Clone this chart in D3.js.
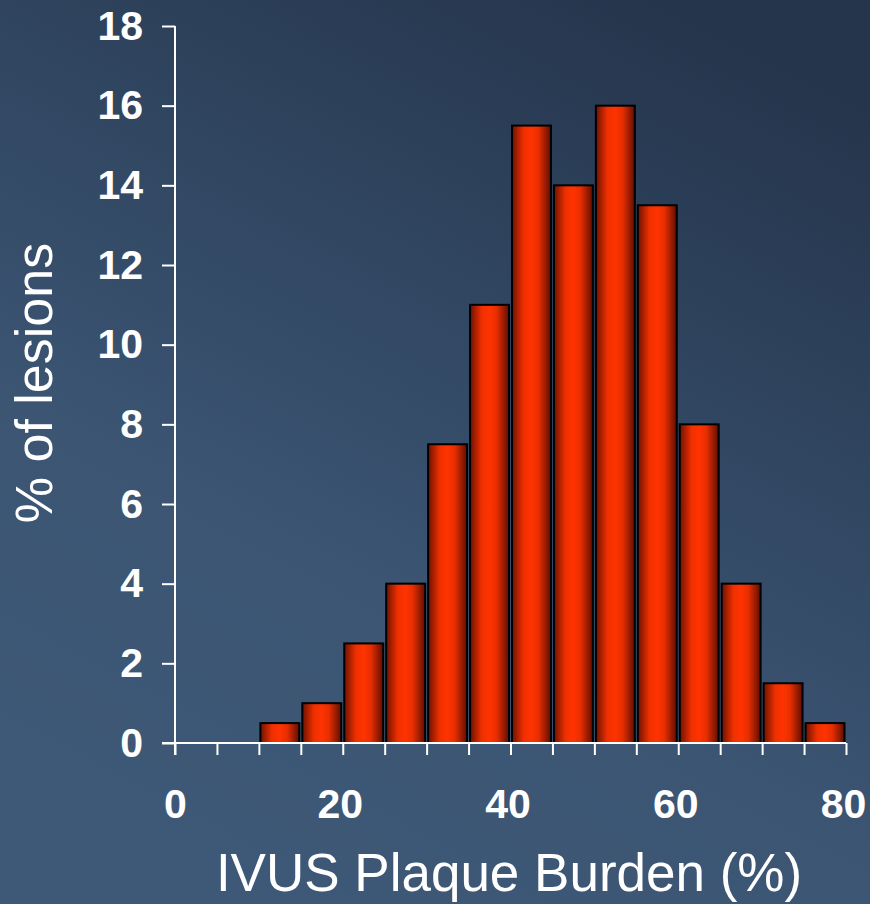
<!DOCTYPE html>
<html>
<head>
<meta charset="utf-8">
<script src="https://cdn.jsdelivr.net/npm/d3@7"></script>
<style>
  html, body { margin: 0; padding: 0; background: #334a66; }
  svg { display: block; }
</style>
</head>
<body>
<svg id="chart"></svg>
<script>
// histogram bins (lower edge, %) and share of lesions in each
let binStarts = [10, 15, 20, 25, 30, 35, 40, 45, 50, 55, 60, 65, 70, 75];
let binWidth = 5;
let lesionPct = [0.5, 1, 2.5, 4, 7.5, 11, 15.5, 14, 16, 13.5, 8, 4, 1.5, 0.5];
let xTicks = [0, 5, 10, 15, 20, 25, 30, 35, 40, 45, 50, 55, 60, 65, 70, 75, 80];
let xLabels = [0, 20, 40, 60, 80];
let yTicks = [0, 2, 4, 6, 8, 10, 12, 14, 16, 18];

let width = 870;
let height = 904;
let margin = {top: 26, right: 24, bottom: 161, left: 175};
let font = "'Liberation Sans', Arial, Helvetica, sans-serif";

let svg = d3.select('#chart')
  .attr('width', width)
  .attr('height', height);

let defs = svg.append('defs');

// slide background
let bg = defs.append('linearGradient')
  .attr('id', 'bg')
  .attr('x1', 0.75).attr('y1', 0)
  .attr('x2', 0.25).attr('y2', 1);
bg.append('stop').attr('offset', '0%').attr('stop-color', '#25354c');
bg.append('stop').attr('offset', '65%').attr('stop-color', '#3b5573');
bg.append('stop').attr('offset', '100%').attr('stop-color', '#3e5977');

// cylinder-ish bar shading
let barGrad = defs.append('linearGradient')
  .attr('id', 'bar')
  .attr('x1', 0).attr('y1', 0)
  .attr('x2', 1).attr('y2', 0);
barGrad.append('stop').attr('offset', '0%').attr('stop-color', '#6e1200');
barGrad.append('stop').attr('offset', '30%').attr('stop-color', '#f03000');
barGrad.append('stop').attr('offset', '50%').attr('stop-color', '#ff3300');
barGrad.append('stop').attr('offset', '68%').attr('stop-color', '#e82e00');
barGrad.append('stop').attr('offset', '100%').attr('stop-color', '#5e0e00');

svg.append('rect')
  .attr('width', width)
  .attr('height', height)
  .attr('fill', 'url(#bg)');

let x = d3.scaleLinear()
  .domain([0, 80])
  .range([margin.left, width - margin.right]);

let y = d3.scaleLinear()
  .domain([0, 18])
  .range([height - margin.bottom, margin.top]);

// bars
svg.append('g')
  .selectAll('rect')
  .data(binStarts)
  .enter()
  .append('rect')
    .attr('x', d => x(d) + 1.5)
    .attr('y', (d, i) => y(lesionPct[i]))
    .attr('width', d => x(d + binWidth) - x(d) - 3)
    .attr('height', (d, i) => y(0) - y(lesionPct[i]))
    .attr('fill', 'url(#bar)')
    .attr('stroke', '#000')
    .attr('stroke-width', 2);

// x axis
let xAxis = svg.append('g')
  .attr('transform', `translate(0,${y(0)})`)
  .call(d3.axisBottom(x)
    .tickValues(xTicks)
    .tickSize(12)
    .tickPadding(34)
    .tickFormat(d => xLabels.includes(d) ? d : ''));

xAxis.selectAll('.tick text')
  .attr('dx', d => d === 0 ? 0 : -3);

xAxis.select('.domain')
  .attr('d', `M${margin.left - 13},0H${x(80)}`);

// y axis
let yAxis = svg.append('g')
  .attr('transform', `translate(${x(0)},0)`)
  .call(d3.axisLeft(y)
    .tickValues(yTicks)
    .tickSize(13)
    .tickPadding(19));

yAxis.select('.domain')
  .attr('d', `M0,${y(18)}V${y(0) + 12}`);

svg.selectAll('.domain, .tick line')
  .attr('stroke', '#fff')
  .attr('stroke-width', 2);

svg.selectAll('.tick text')
  .attr('fill', '#fff')
  .attr('font-family', font)
  .attr('font-weight', 'bold')
  .attr('font-size', 41);

// axis titles
svg.append('text')
  .attr('x', 509)
  .attr('y', 891)
  .attr('text-anchor', 'middle')
  .attr('fill', '#fff')
  .attr('font-family', font)
  .attr('font-size', 53)
  .text('IVUS Plaque Burden (%)');

svg.append('text')
  .attr('transform', 'translate(52,383) rotate(-90)')
  .attr('text-anchor', 'middle')
  .attr('fill', '#fff')
  .attr('font-family', font)
  .attr('font-size', 52)
  .text('% of lesions');
</script>
</body>
</html>
